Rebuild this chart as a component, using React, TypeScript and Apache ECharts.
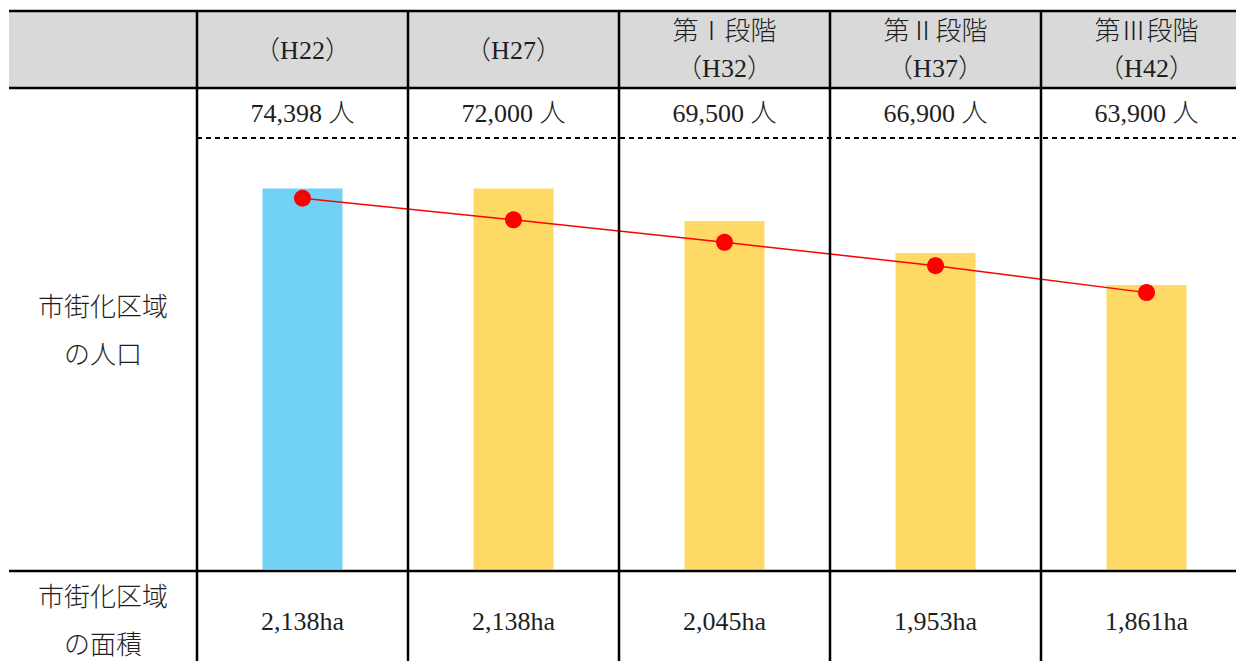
import React, { useEffect, useRef } from "react";
import * as echarts from "echarts";

// Planning periods (column headers)
const stageLabels = ["", "", "第Ⅰ段階", "第Ⅱ段階", "第Ⅲ段階"];
const yearLabels = ["（H22）", "（H27）", "（H32）", "（H37）", "（H42）"];
// Population of the urbanization promotion area (persons)
const population = [74398, 72000, 69500, 66900, 63900];
// Area of the urbanization promotion area (ha)
const areaHa = [2138, 2138, 2045, 1953, 1861];
// Row headings
const popRowTitle = ["市街化区域", "の人口"];
const areaRowTitle = ["市街化区域", "の面積"];

const W = 1236;
const H = 661;
const TABLE_LEFT = 9;
const COL0_RIGHT = 197;
const COL_W = 211;
const HEADER_TOP = 11;
const HEADER_BOTTOM = 88;
const DASH_Y = 138;
const CHART_BOTTOM = 571;

const BLUE = "#71D2F5";
const YELLOW = "#FED966";
const GRAY = "#D9D9D9";
const INK = "#1e1e1e";
const FONT = "'Liberation Serif', 'Noto Sans CJK JP', serif";
const FS = 26;

const fmt = (n: number) => n.toLocaleString("en-US");

export default function App() {
  const ref = useRef<HTMLDivElement>(null);

  useEffect(() => {
    if (!ref.current) return;
    const chart = echarts.init(ref.current, null, { renderer: "svg" });

    const colX = (i: number) => COL0_RIGHT + COL_W * (i + 0.5);
    const txt = (text: string, x: number, y: number) => ({
      type: "text",
      x,
      y,
      silent: true,
      z: 10,
      style: {
        text,
        fill: INK,
        fontSize: FS,
        fontWeight: 300,
        fontFamily: FONT,
        align: "center",
        verticalAlign: "middle",
      },
    });
    const hline = (x1: number, x2: number, y: number, dashed = false) => ({
      type: "line",
      silent: true,
      z: 5,
      shape: { x1, y1: y, x2, y2: y },
      style: {
        stroke: "#000",
        lineWidth: dashed ? 2 : 2.5,
        lineDash: dashed ? [5, 4] : null,
      },
    });
    const vline = (x: number, y1: number, y2: number) => ({
      type: "line",
      silent: true,
      z: 5,
      shape: { x1: x, y1, x2: x, y2 },
      style: { stroke: "#000", lineWidth: 2.5 },
    });

    const graphics: any[] = [
      {
        type: "rect",
        silent: true,
        z: 1,
        shape: { x: TABLE_LEFT, y: HEADER_TOP, width: W - TABLE_LEFT, height: HEADER_BOTTOM - HEADER_TOP },
        style: { fill: GRAY },
      },
      hline(TABLE_LEFT, W, HEADER_TOP),
      hline(TABLE_LEFT, W, HEADER_BOTTOM),
      hline(COL0_RIGHT, W, DASH_Y, true),
      hline(TABLE_LEFT, W, CHART_BOTTOM),
    ];
    for (let i = 0; i < 5; i++) {
      graphics.push(vline(COL0_RIGHT + COL_W * i, HEADER_TOP, H));
    }
    yearLabels.forEach((yl, i) => {
      const x = colX(i);
      if (stageLabels[i]) {
        graphics.push(txt(stageLabels[i], x, 31));
        graphics.push(txt(yl, x, 68));
      } else {
        graphics.push(txt(yl, x, 50));
      }
      graphics.push(txt(`${fmt(population[i])} 人`, x, 113));
      graphics.push(txt(`${fmt(areaHa[i])}ha`, x, 621));
    });
    graphics.push(txt(popRowTitle[0], 103, 307));
    graphics.push(txt(popRowTitle[1], 103, 355));
    graphics.push(txt(areaRowTitle[0], 103, 597));
    graphics.push(txt(areaRowTitle[1], 103, 645));

    // The last column runs past the right edge, so the x scale is a value
    // axis whose visible range ends part-way through the fifth column.
    const xMax = -0.5 + (W - COL0_RIGHT) / COL_W;

    chart.setOption({
      animation: false,
      grid: { left: COL0_RIGHT, right: 0, top: DASH_Y, bottom: H - 569.5 },
      xAxis: {
        type: "value",
        min: -0.5,
        max: xMax,
        show: false,
        splitLine: { show: false },
      },
      yAxis: [
        { type: "value", min: 1044, max: 2283, show: false, splitLine: { show: false } },
        { type: "value", min: 33100, max: 81100, show: false, splitLine: { show: false } },
      ],
      series: [
        {
          type: "bar",
          yAxisIndex: 0,
          barWidth: 80,
          data: areaHa.map((v, i) => ({
            value: [i, v],
            itemStyle: { color: i === 0 ? BLUE : YELLOW },
          })),
        },
        {
          type: "line",
          yAxisIndex: 1,
          data: population.map((v, i) => [i, v]),
          symbol: "circle",
          symbolSize: 17,
          itemStyle: { color: "#FF0000" },
          lineStyle: { color: "#FF0000", width: 1.5 },
          z: 3,
        },
      ],
      graphic: graphics,
    });

    return () => chart.dispose();
  }, []);

  return (
    <div
      ref={ref}
      style={{ position: "fixed", left: 0, top: 0, width: W, height: H, background: "#fff" }}
    />
  );
}
